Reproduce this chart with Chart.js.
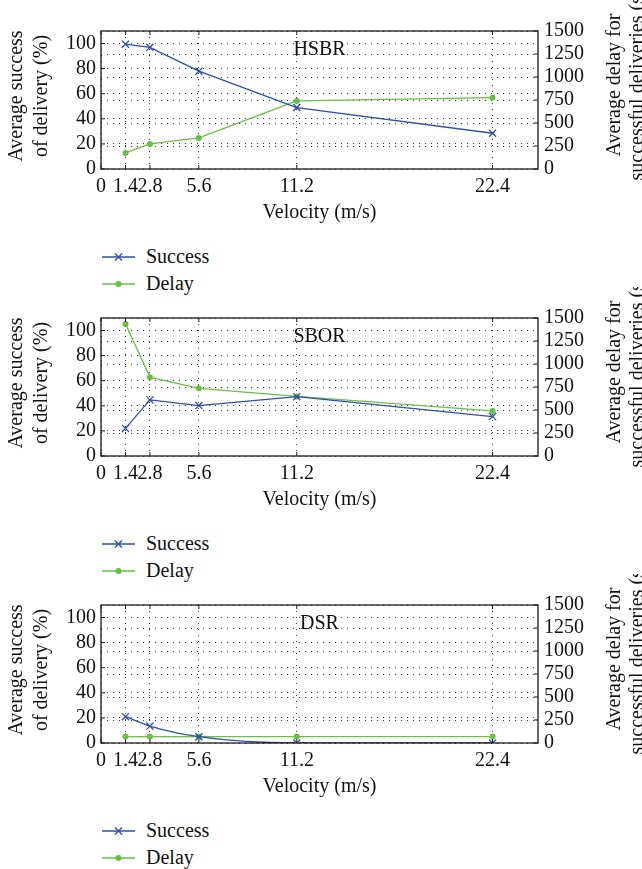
<!DOCTYPE html>
<html>
<head>
<meta charset="utf-8">
<script src="https://cdn.jsdelivr.net/npm/chart.js@4.4.1/dist/chart.umd.min.js"></script>
<style>
  body { margin: 0; background: #fff; width: 642px; height: 869px; overflow: hidden; font-family: "Liberation Serif", "Times New Roman", "DejaVu Serif", serif; }
  .block { position: absolute; left: 0; width: 642px; height: 287px; }
  .block canvas { position: absolute; left: 0; top: 0; }
  .legend { position: absolute; left: 102px; top: 243px; font-size: 20px; color: #111; }
  .legend div { height: 27px; display: flex; align-items: center; }
  .legend svg { margin-right: 11px; }
</style>
</head>
<body>
<script>
const velocity = [1.4, 2.8, 5.6, 11.2, 22.4];
const xTicks = [0, 1.4, 2.8, 5.6, 11.2, 22.4];
const successTicks = [0, 20, 40, 60, 80, 100];
const delayTicks = [0, 250, 500, 750, 1000, 1250, 1500];

const protocols = ["HSBR", "SBOR", "DSR"];
const hsbrSuccess = [99.5, 97, 78, 49, 28.5];
const hsbrDelay = [175, 273, 338, 740, 775];
const sborSuccess = [22, 44.7, 40.2, 47.3, 31.4];
const sborDelay = [1436, 856, 736, 648, 490];
const dsrSuccess = [21, 13.5, 5, 0, 0];
const dsrDelay = [70, 70, 70, 70, 70];

const BLUE = "#2f4ea6";
const GREEN = "#6abf45";
const INK = "#111";
const FAMILY = "'Liberation Serif', 'Times New Roman', 'DejaVu Serif', serif";
const FONT = { family: FAMILY, size: 20 };

// box, inward ticks, in-plot title and axis titles
const framePlugin = {
    id: "frame",
    afterDraw(chart, args, opts) {
        const { ctx, chartArea: a, scales } = chart;
        const line = (x1, y1, x2, y2) => {
            ctx.beginPath(); ctx.moveTo(x1, y1); ctx.lineTo(x2, y2); ctx.stroke();
        };
        ctx.save();
        ctx.strokeStyle = "#1a1a1a";
        ctx.lineWidth = 1;
        xTicks.forEach(v => {
            const px = scales.x.getPixelForValue(v);
            line(px, a.bottom, px, a.bottom - 4);
            line(px, a.top, px, a.top + 4);
        });
        successTicks.forEach(v => {
            const py = scales.y.getPixelForValue(v);
            line(a.left, py, a.left + 4, py);
        });
        delayTicks.forEach(v => {
            const py = scales.y1.getPixelForValue(v);
            line(a.right, py, a.right - 4, py);
        });
        ctx.lineWidth = 1.3;
        ctx.strokeRect(a.left, a.top, a.right - a.left, a.bottom - a.top);

        ctx.fillStyle = INK;
        ctx.font = "20px " + FAMILY;
        ctx.textAlign = "center";
        ctx.textBaseline = "middle";
        const cx = (a.left + a.right) / 2;
        ctx.fillText(opts.title, cx, a.top + 19);
        ctx.fillText("Velocity (m/s)", cx, 213);

        const rotated = (lines, xs, y) => {
            lines.forEach((t, k) => {
                ctx.save();
                ctx.translate(xs[k], y);
                ctx.rotate(-Math.PI / 2);
                ctx.fillText(t, 0, 0);
                ctx.restore();
            });
        };
        rotated(["Average success", "of delivery (%)"], [17, 42], 96);
        rotated(["Average delay for", "successful deliveries (s)"], [615, 638], 85);
        ctx.restore();
    }
};

function gridOpts() {
    return { color: "#3a3a3a", lineWidth: 1, drawTicks: false };
}

function makeChart(i, name, success, delay, smooth) {
    const block = document.createElement("div");
    block.className = "block";
    block.style.top = (i * 287) + "px";
    const canvas = document.createElement("canvas");
    canvas.width = 642;
    canvas.height = 235;
    block.appendChild(canvas);

    const legend = document.createElement("div");
    legend.className = "legend";
    legend.innerHTML =
        '<div><svg width="33" height="14"><line x1="0" y1="7" x2="33" y2="7" stroke="' + BLUE + '" stroke-width="1.3"/>' +
        '<path d="M13 3.5 L20 10.5 M20 3.5 L13 10.5" stroke="' + BLUE + '" stroke-width="1.3"/></svg>Success</div>' +
        '<div><svg width="33" height="14"><line x1="0" y1="7" x2="33" y2="7" stroke="' + GREEN + '" stroke-width="1.3"/>' +
        '<circle cx="16.5" cy="7" r="3" fill="' + GREEN + '"/></svg>Delay</div>';
    block.appendChild(legend);
    document.body.appendChild(block);

    new Chart(canvas.getContext("2d"), {
        type: "line",
        data: {
            datasets: [{
                label: "Success",
                data: velocity.map((v, k) => ({ x: v, y: success[k] })),
                yAxisID: "y",
                borderColor: BLUE,
                backgroundColor: BLUE,
                borderWidth: 1.3,
                pointStyle: "crossRot",
                pointRadius: 5,
                pointBorderWidth: 1.3,
                cubicInterpolationMode: smooth ? "monotone" : "default",
                tension: 0
            }, {
                label: "Delay",
                data: velocity.map((v, k) => ({ x: v, y: delay[k] })),
                yAxisID: "y1",
                borderColor: GREEN,
                backgroundColor: GREEN,
                borderWidth: 1.3,
                pointStyle: "circle",
                pointRadius: 3,
                pointBorderWidth: 0,
                tension: 0
            }]
        },
        options: {
            responsive: false,
            animation: false,
            devicePixelRatio: 1,
            layout: { padding: { top: 31, left: 0, right: 0, bottom: 0 } },
            plugins: {
                legend: { display: false },
                tooltip: { enabled: false },
                frame: { title: name }
            },
            scales: {
                x: {
                    type: "linear",
                    min: 0,
                    max: 25,
                    afterBuildTicks: s => { s.ticks = xTicks.map(v => ({ value: v })); },
                    afterFit: s => { s.height = 66; },
                    ticks: { autoSkip: false, maxRotation: 0, padding: 6, color: INK, font: FONT, callback: v => String(v) },
                    grid: gridOpts(),
                    border: { display: false, dash: [1, 5] }
                },
                y: {
                    position: "left",
                    min: 0,
                    max: 110,
                    afterBuildTicks: s => { s.ticks = successTicks.map(v => ({ value: v })); },
                    afterFit: s => { s.width = 101; },
                    ticks: { autoSkip: false, padding: 5, color: INK, font: FONT, callback: v => String(v) },
                    grid: gridOpts(),
                    border: { display: false, dash: [1, 5] }
                },
                y1: {
                    position: "right",
                    min: 0,
                    max: 1500,
                    afterBuildTicks: s => { s.ticks = delayTicks.map(v => ({ value: v })); },
                    afterFit: s => { s.width = 104; },
                    ticks: { autoSkip: false, padding: 6, color: INK, font: FONT, callback: v => String(v) },
                    grid: gridOpts(),
                    border: { display: false, dash: [1, 5] }
                }
            }
        },
        plugins: [framePlugin]
    });
}

makeChart(0, protocols[0], hsbrSuccess, hsbrDelay, false);
makeChart(1, protocols[1], sborSuccess, sborDelay, false);
makeChart(2, protocols[2], dsrSuccess, dsrDelay, true);
</script>
</body>
</html>
